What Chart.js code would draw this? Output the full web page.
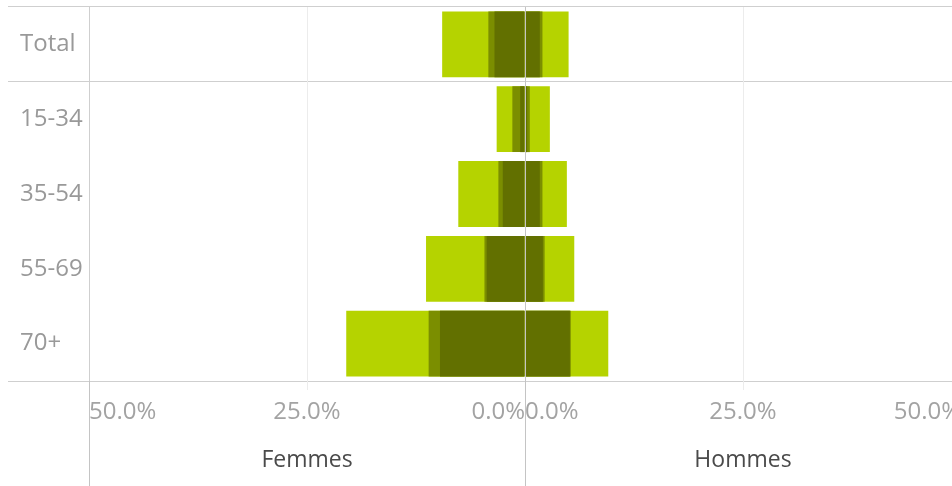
<!DOCTYPE html>
<html>
<head>
<meta charset="utf-8">
<script src="https://cdn.jsdelivr.net/npm/chart.js@4"></script>
<style>
  html, body { margin: 0; padding: 0; background: #ffffff; overflow: hidden; width: 952px; height: 486px; }
  #wrap { position: relative; width: 952px; height: 486px; overflow: hidden; }
  #femmes { position: absolute; left: 0; top: 0; }
  #hommes { position: absolute; left: 520px; top: 0; }
</style>
</head>
<body>
<div id="wrap">
  <canvas id="femmes" width="530" height="486"></canvas>
  <canvas id="hommes" width="441" height="486"></canvas>
</div>
<script>
// ---- data (percent) ----
const categories = ["Total", "15-34", "35-54", "55-69", "70+"];

const femmesClair  = [9.5, 3.25, 7.65, 11.35, 20.5];
const femmesMoyen  = [4.2, 1.45, 3.05, 4.65, 11.05];
const femmesFonce  = [3.5, 0.55, 2.55, 4.4, 9.75];

const hommesClair  = [5.0, 2.85, 4.8, 5.65, 9.55];
const hommesMoyen  = [2.0, 0.55, 2.0, 2.25, 5.25];
const hommesFonce  = [1.7, 0.25, 1.7, 2.05, 5.15];

const tickValues = [0, 25, 50];
const tickLabels = ["0.0%", "25.0%", "50.0%"];
const paneTitles = ["Femmes", "Hommes"];

// ---- styles ----
const COL_CLAIR = '#b5d300';
const COL_MOYEN = '#7b8e00';
const COL_FONCE = '#627000';
const LINE = '#cfcfcf';
const LINE_ZERO = '#c4c4c4';
const GRID_LIGHT = '#ececec';

Chart.defaults.font.family = "'Open Sans', sans-serif";

const paneLines = {
  id: 'paneLines',
  afterDraw(chart, args, opts) {
    const xs = chart.scales.x;
    const ctx = chart.ctx;
    ctx.save();
    ctx.strokeStyle = LINE_ZERO;
    ctx.lineWidth = 1;
    (opts.values || []).forEach(v => {
      const px = Math.round(xs.getPixelForValue(v) - 0.5) + 0.5;
      ctx.beginPath();
      ctx.moveTo(px, chart.chartArea.bottom);
      ctx.lineTo(px, chart.height);
      ctx.stroke();
    });
    ctx.restore();
  }
};

function noPad(s) {
  s.paddingLeft = 0; s.paddingRight = 0; s.paddingTop = 0; s.paddingBottom = 0;
}

function makeChart(id, clair, moyen, fonce, title, isLeft) {
  return new Chart(document.getElementById(id), {
    type: 'bar',
    data: {
      labels: categories,
      datasets: [
        { data: fonce, backgroundColor: COL_FONCE },
        { data: moyen, backgroundColor: COL_MOYEN },
        { data: clair, backgroundColor: COL_CLAIR }
      ]
    },
    options: {
      indexAxis: 'y',
      responsive: false,
      animation: false,
      events: [],
      devicePixelRatio: 1,
      layout: { padding: isLeft ? { left: 20, right: 5, top: 7, bottom: 0 } : { left: 5, right: 0, top: 7, bottom: 0 } },
      datasets: { bar: { barPercentage: 0.88, categoryPercentage: 1.0, borderWidth: 0 } },
      plugins: {
        legend: { display: false },
        tooltip: { enabled: false },
        paneLines: { values: isLeft ? [0, 50] : [0] }
      },
      scales: {
        x: {
          type: 'linear',
          min: 0,
          max: 50,
          reverse: isLeft,
          afterBuildTicks: s => { s.ticks = tickValues.map(v => ({ value: v })); },
          afterFit: s => { s.height = 105; noPad(s); },
          border: { display: false },
          grid: {
            z: 1,
            lineWidth: 1,
            drawTicks: true,
            tickLength: 9,
            color: c => {
              const v = c.tick ? c.tick.value : null;
              if (v === 0) return LINE_ZERO;
              if (v === 50) return LINE;
              return GRID_LIGHT;
            }
          },
          ticks: {
            align: 'inner',
            padding: 8,
            maxRotation: 0,
            autoSkip: false,
            color: '#a3a3a3',
            font: { size: 24 },
            callback: v => tickLabels[tickValues.indexOf(v)]
          },
          title: {
            display: true,
            text: title,
            color: '#4a4a4a',
            font: { size: 23 },
            padding: { top: 0, bottom: 12 }
          }
        },
        y: {
          type: 'category',
          stacked: true,
          afterFit: s => { s.width = isLeft ? 69 : 0; noPad(s); },
          border: { display: false },
          grid: {
            offset: true,
            lineWidth: 1,
            drawTicks: isLeft,
            tickLength: isLeft ? 81 : 0,
            color: c => (c.type === 'scale' || c.index === 0 || c.index === 1) ? LINE : 'rgba(0,0,0,0)'
          },
          ticks: {
            display: isLeft,
            crossAlign: 'far',
            padding: 0,
            color: '#999999',
            font: { size: 24 }
          }
        }
      }
    },
    plugins: [paneLines]
  });
}

makeChart('femmes', femmesClair, femmesMoyen, femmesFonce, paneTitles[0], true);
makeChart('hommes', hommesClair, hommesMoyen, hommesFonce, paneTitles[1], false);
</script>
</body>
</html>
